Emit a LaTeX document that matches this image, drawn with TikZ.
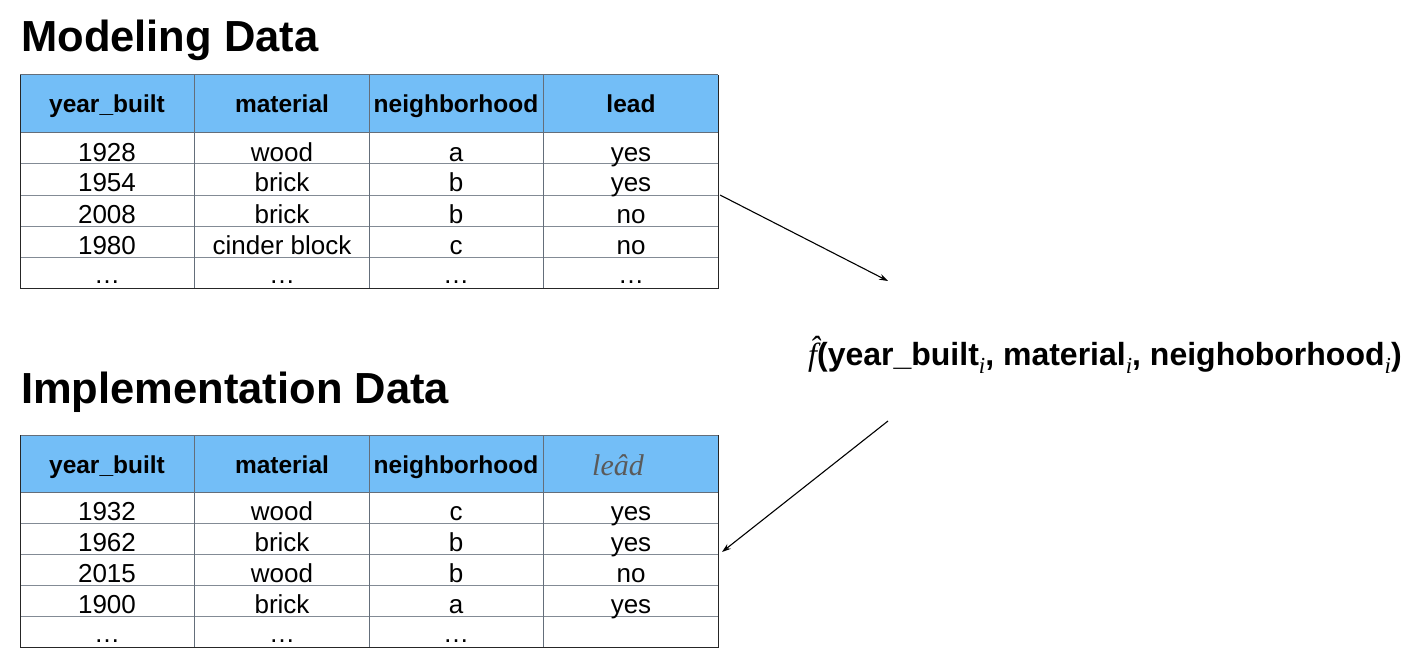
\documentclass[tikz,border=0pt]{standalone}
\usepackage{fontspec}
\setmainfont{Liberation Sans}
\newfontfamily\serif{Liberation Serif}
\usetikzlibrary{arrows.meta}
\definecolor{hdrblue}{RGB}{115,190,247}
\definecolor{gridline}{RGB}{100,110,122}
\definecolor{hatgray}{RGB}{90,90,90}
\newcommand{\subi}{\raisebox{-0.28em}{\fontsize{23}{23}\selectfont\serif\mdseries\itshape i}}
\tikzset{
  cell/.style={font=\fontsize{26}{26}\selectfont, anchor=base, inner sep=0},
  hdr/.style={font=\fontsize{24.5}{24.5}\selectfont\bfseries, anchor=base, inner sep=0},
  title/.style={font=\fontsize{43.5}{43.5}\selectfont\bfseries, anchor=base west, inner sep=0},
  tabline/.style={gridline, line width=1pt},
  flow/.style={-{Stealth[length=9pt,width=6pt]}, line width=1.1pt}
}
\begin{document}
\begin{tikzpicture}[x=1pt,y=-1pt]
\useasboundingbox (0,0) rectangle (1422,666);

% titles
\node[title] (mtitle) at (21,52) {Modeling Data};
\node[title] (ptitle) at (21,403) {Implementation Data};

% modeling table
\fill[hdrblue] (20,75) rectangle (718,133);
\foreach \y in {164,195,226,257}
    \draw[tabline, gridline!80] (20,\y)--(718,\y);
\draw[tabline] (20,75)--(718,75);
\draw[tabline] (20,133)--(718,133);
\foreach \x in {194.5,369,543.5}
    \draw[tabline] (\x,75)--(\x,288);
\draw[line width=1pt, black!85] (20,75)--(20,288)--(718,288)--(718,75);
\node[hdr] (m-0-1) at (107,113) {year\_built};
\node[hdr] (m-0-2) at (282,113) {material};
\node[hdr] (m-0-3) at (456,113) {neighborhood};
\node[hdr] (m-0-4) at (631,113) {lead};
\foreach \a/\b/\c/\d [count=\r] in {1928/wood/a/yes, 1954/brick/b/yes, 2008/brick/b/no, 1980/cinder block/c/no}{
    \pgfmathsetmacro\yb{133+31*\r-3}
    \node[cell] (m-\r-1) at (107,\yb) {\a};
    \node[cell] (m-\r-2) at (282,\yb) {\b};
    \node[cell] (m-\r-3) at (456,\yb) {\c};
    \node[cell] (m-\r-4) at (631,\yb) {\d};
}
\node[cell] (m-5-1) at (107,283) {…};
\node[cell] (m-5-2) at (282,283) {…};
\node[cell] (m-5-3) at (456,283) {…};
\node[cell] (m-5-4) at (631,283) {…};

% implementation table
\fill[hdrblue] (20,435) rectangle (718,492);
\foreach \y in {523,554,585,616}
    \draw[tabline, gridline!80] (20,\y)--(718,\y);
\draw[tabline] (20,435)--(718,435);
\draw[tabline] (20,492)--(718,492);
\foreach \x in {194.5,369,543.5}
    \draw[tabline] (\x,435)--(\x,647);
\draw[line width=1pt, black!85] (20,435)--(20,647)--(718,647)--(718,435);
\node[hdr] (p-0-1) at (107,473) {year\_built};
\node[hdr] (p-0-2) at (282,473) {material};
\node[hdr] (p-0-3) at (456,473) {neighborhood};
\node[hdr, font=\fontsize{30}{30}\selectfont\serif\itshape, text=hatgray] (p-0-4) at (618,475) {leâd};
\foreach \a/\b/\c/\d [count=\r] in {1932/wood/c/yes, 1962/brick/b/yes, 2015/wood/b/no, 1900/brick/a/yes}{
    \pgfmathsetmacro\yb{492+31*\r-3}
    \node[cell] (p-\r-1) at (107,\yb) {\a};
    \node[cell] (p-\r-2) at (282,\yb) {\b};
    \node[cell] (p-\r-3) at (456,\yb) {\c};
    \node[cell] (p-\r-4) at (631,\yb) {\d};
}
\node[cell] (p-5-1) at (107,642) {…};
\node[cell] (p-5-2) at (282,642) {…};
\node[cell] (p-5-3) at (456,642) {…};

% model
\node[anchor=base west, inner sep=0, font=\fontsize{32}{32}\selectfont\bfseries] (fhat) at (808,365)
    {{\serif\mdseries\itshape\^{f}}(year\_built\subi, material\subi, neighoborhood\subi)};

\coordinate (mout) at (720,195);
\coordinate (fin) at (888,281);
\coordinate (fout) at (888,421);
\coordinate (pin) at (722,552);
\draw[flow] (mout)--(fin);
\draw[flow] (fout)--(pin);
\end{tikzpicture}
\end{document}
